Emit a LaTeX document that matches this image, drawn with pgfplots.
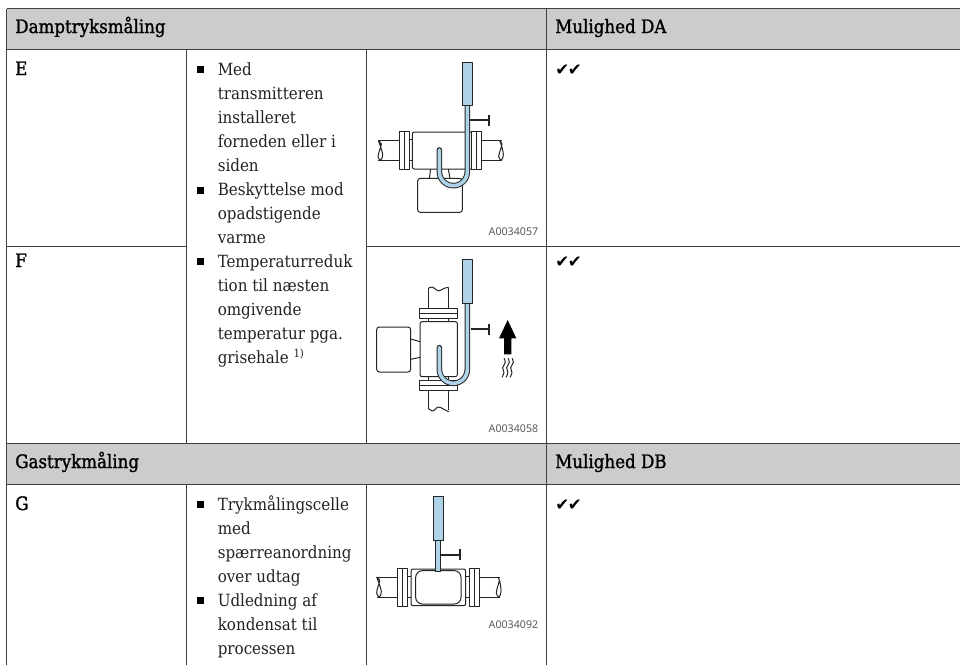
\documentclass[border=0pt]{standalone}
\usepackage{pgfplots}
\pgfplotsset{compat=1.18}
\usepackage{fontspec}
\setmainfont{DejaVu Serif Condensed}
\newfontfamily\hdf[FakeBold=1.3]{DejaVu Serif Condensed}
\newfontfamily\chk{DejaVu Sans}
\newfontfamily\cod{Noto Sans}
\definecolor{hd}{HTML}{CCCCCC}
\definecolor{bl}{HTML}{AED3E8}
\definecolor{ink}{HTML}{242424}
\definecolor{txt}{HTML}{222222}
\pgfplotsset{
 d1/.style={x filter/.expression={340+x/3},y filter/.expression={40+y/3}},
 d2/.style={x filter/.expression={340+x/3},y filter/.expression={225+y/3}},
 d3/.style={x filter/.expression={340+x/3},y filter/.expression={475+y/3}},
 ln/.style={no marks,color=ink,line width=0.75pt,line join=round},
 rr/.style={ln,rounded corners=#1},
 wv/.style={ln,smooth,tension=0.6},
 tk/.style={no marks,color=ink,line width=1.7pt},
 tb/.style={no marks,color=black!85,line width=4.2pt,line join=round,line cap=round},
 ti/.style={no marks,color=bl,line width=2.7pt,line join=round,line cap=round},
 rl/.style={no marks,color=black!75,line width=0.75pt},
 bu/.style={only marks,mark=square*,mark size=2.2pt,color=black},
}
\newcommand{\T}[3]{\node[anchor=base west,inner sep=0pt,text=txt,font=\fontsize{12.6pt}{14pt}\selectfont] at (axis cs:#1,#2) {#3};}
\newcommand{\B}[3]{\node[anchor=base west,inner sep=0pt,text=black,font=\hdf\fontsize{13.9pt}{15pt}\selectfont] at (axis cs:#1,#2) {#3};}
\newcommand{\C}[2]{\node[anchor=base west,inner sep=0pt,text=black,font=\chk\fontsize{12.5pt}{13pt}\selectfont] at (axis cs:#1,#2) {✔\hspace{-1pt}✔};}
\newcommand{\A}[3]{\node[anchor=base east,inner sep=0pt,text=black!65,font=\cod\fontsize{8pt}{10pt}\selectfont] at (axis cs:#1,#2) {#3};}
\begin{document}
\begin{tikzpicture}
\begin{axis}[
 scale only axis,width=720pt,height=498.75pt,
 xmin=0,xmax=960,ymin=0,ymax=665,y dir=reverse,
 hide axis,clip=true,
]
\addplot[draw=none,fill=white] coordinates {(0,0)(960,0)(960,665)(0,665)} --cycle;
% header bands
\addplot[draw=none,fill=hd] coordinates {(6.5,8.5)(960,8.5)(960,49)(6.5,49)} --cycle;
\addplot[draw=none,fill=hd] coordinates {(6.5,443.5)(960,443.5)(960,484)(6.5,484)} --cycle;
% rules
\addplot[rl] coordinates {(6.5,8.5)(960,8.5)};
\addplot[rl] coordinates {(6.5,49)(960,49)};
\addplot[rl] coordinates {(6.5,443.5)(960,443.5)};
\addplot[rl] coordinates {(6.5,484)(960,484)};
\addplot[rl] coordinates {(6.5,246.5)(186,246.5)};
\addplot[rl] coordinates {(366.5,246.5)(960,246.5)};
\addplot[rl] coordinates {(6.5,8.5)(6.5,665)};
\addplot[rl] coordinates {(186,49)(186,443.5)};
\addplot[rl] coordinates {(186,484)(186,665)};
\addplot[rl] coordinates {(366.5,49)(366.5,443.5)};
\addplot[rl] coordinates {(366.5,484)(366.5,665)};
\addplot[rl] coordinates {(546.5,8.5)(546.5,665)};
% bullets
\addplot[bu] coordinates {(200,69)(200,190)(200,261)(200,504.5)(200,600.5)};
% diagram 1
\addplot[d1,rr=2pt,fill=white] coordinates {(233,415)(367,415)(367,517)(233,517)} --cycle;
\addplot[d1,ln] coordinates {(272,387)(268,415)};
\addplot[d1,ln] coordinates {(325,387)(330,415)};
\addplot[d1,ln] coordinates {(115,302)(177,302)};
\addplot[d1,ln] coordinates {(115,362)(177,362)};
\addplot[d1,ln] coordinates {(423,302)(485,302)};
\addplot[d1,ln] coordinates {(423,362)(485,362)};
\addplot[d1,wv] coordinates {(115,302)(121,318)(128,345)(122,360)(114,350)(119,330)(124,312)(115,302)};
\addplot[d1,wv] coordinates {(479,302)(485,318)(490,345)(484,360)(476,350)(481,330)(486,312)(479,302)};
\addplot[d1,ln] coordinates {(207,298)(217,298)(217,362)(207,362)};
\addplot[d1,ln] coordinates {(393,298)(400,298)(400,362)(393,362)};
\addplot[d1,rr=1.5pt,fill=white] coordinates {(217,276)(400,276)(400,387)(217,387)} --cycle;
\addplot[d1,ln,fill=white] coordinates {(177,274)(207,274)(207,388)(177,388)} --cycle;
\addplot[d1,ln] coordinates {(192,274)(192,388)};
\addplot[d1,ln,fill=white] coordinates {(393,274)(423,274)(423,388)(393,388)} --cycle;
\addplot[d1,ln] coordinates {(408,274)(408,388)};
\addplot[d1,tk] coordinates {(390,240)(447,240)};
\addplot[d1,tk] coordinates {(447,224)(447,257)};
\addplot[d1,tb] coordinates {(382,197)(382,395)(380.6,405.9)(376.4,416)(369.7,424.7)(361,431.4)(350.9,435.6)(340,437)(329.1,435.6)(319,431.4)(310.3,424.7)(303.6,416)(299.4,405.9)(298,395)(298,330)};
\addplot[d1,ti] coordinates {(382,197)(382,395)(380.6,405.9)(376.4,416)(369.7,424.7)(361,431.4)(350.9,435.6)(340,437)(329.1,435.6)(319,431.4)(310.3,424.7)(303.6,416)(299.4,405.9)(298,395)(298,330)};
\addplot[d1,ln,fill=bl] coordinates {(367,67)(397,67)(397,197)(367,197)} --cycle;
% diagram 2
\addplot[d2,rr=2pt,fill=white] coordinates {(110,306)(212,306)(212,441)(110,441)} --cycle;
\addplot[d2,ln] coordinates {(212,342)(240,350)};
\addplot[d2,ln] coordinates {(212,403)(240,397)};
\addplot[d2,ln] coordinates {(265,190)(265,250)};
\addplot[d2,ln] coordinates {(326,190)(326,250)};
\addplot[d2,ln] coordinates {(265,281)(265,290)};
\addplot[d2,ln] coordinates {(326,281)(326,290)};
\addplot[d2,ln] coordinates {(265,455)(265,465)};
\addplot[d2,ln] coordinates {(326,455)(326,465)};
\addplot[d2,ln] coordinates {(265,496)(265,552)};
\addplot[d2,ln] coordinates {(326,496)(326,556)};
\addplot[d2,wv] coordinates {(265,190)(278,186)(295,198)(312,190)(326,187)};
\addplot[d2,wv] coordinates {(265,550)(278,558)(295,546)(312,553)(326,560)};
\addplot[d2,rr=1.5pt,fill=white] coordinates {(240,290)(352,290)(352,455)(240,455)} --cycle;
\addplot[d2,ln,fill=white] coordinates {(238,250)(353,250)(353,281)(238,281)} --cycle;
\addplot[d2,ln] coordinates {(238,265)(353,265)};
\addplot[d2,ln,fill=white] coordinates {(238,465)(353,465)(353,496)(238,496)} --cycle;
\addplot[d2,ln] coordinates {(238,480)(353,480)};
\addplot[d2,tk] coordinates {(392,313)(448,313)};
\addplot[d2,tk] coordinates {(448,296)(448,330)};
\addplot[d2,tb] coordinates {(382,235)(382,433)(380.6,443.9)(376.4,454)(369.7,462.7)(361,469.4)(350.9,473.6)(340,475)(329.1,473.6)(319,469.4)(310.3,462.7)(303.6,454)(299.4,443.9)(298,433)(298,368)};
\addplot[d2,ti] coordinates {(382,235)(382,433)(380.6,443.9)(376.4,454)(369.7,462.7)(361,469.4)(350.9,473.6)(340,475)(329.1,473.6)(319,469.4)(310.3,462.7)(303.6,454)(299.4,443.9)(298,433)(298,368)};
\addplot[d2,ln,fill=bl] coordinates {(368,103)(397,103)(397,235)(368,235)} --cycle;
\addplot[d2,draw=none,fill=black] coordinates {(503,285)(529,340)(514,340)(514,388)(492,388)(492,340)(477,340)} --cycle;
\addplot[d2,wv] coordinates {(492,400)(496,412)(488,428)(492,443)(486,457)};
\addplot[d2,wv] coordinates {(504,400)(508,412)(500,428)(504,443)(498,457)};
\addplot[d2,wv] coordinates {(516,400)(520,412)(512,428)(516,443)(510,457)};
% diagram 3
\addplot[d3,ln] coordinates {(110,306)(172,306)};
\addplot[d3,ln] coordinates {(110,368)(172,368)};
\addplot[d3,ln] coordinates {(417,306)(480,306)};
\addplot[d3,ln] coordinates {(417,368)(480,368)};
\addplot[d3,wv] coordinates {(110,306)(116,322)(124,350)(118,366)(110,354)(114,335)(119,316)(110,306)};
\addplot[d3,wv] coordinates {(474,306)(480,322)(483,350)(477,366)(469,354)(473,335)(478,316)(474,306)};
\addplot[d3,ln] coordinates {(202,305)(213,305)(213,368)(202,368)};
\addplot[d3,ln] coordinates {(387,305)(377,305)(377,368)(387,368)};
\addplot[d3,rr=1.5pt,fill=white] coordinates {(213,282)(377,282)(377,392)(213,392)} --cycle;
\addplot[d3,rr=5pt,fill=white] coordinates {(227,287)(363,287)(363,387)(227,387)} --cycle;
\addplot[d3,ln,fill=white] coordinates {(172,281)(202,281)(202,393)(172,393)} --cycle;
\addplot[d3,ln] coordinates {(187,281)(187,393)};
\addplot[d3,ln,fill=white] coordinates {(387,281)(417,281)(417,393)(387,393)} --cycle;
\addplot[d3,ln] coordinates {(402,281)(402,393)};
\addplot[d3,tk] coordinates {(302,239)(360,239)};
\addplot[d3,tk] coordinates {(360,223)(360,256)};
\addplot[d3,ln,fill=bl] coordinates {(286,195)(302,195)(302,288)(286,288)} --cycle;
\addplot[d3,ln,fill=bl] coordinates {(279,65)(309,65)(309,195)(279,195)} --cycle;
% text
\B{15}{33}{Damptryksmåling}
\B{555}{33}{Mulighed DA}
\B{15}{468}{Gastrykmåling}
\B{555}{468}{Mulighed DB}
\B{15}{75}{E}
\B{15}{267}{F}
\B{15}{510}{G}
\T{217.5}{75}{Med}
\T{217.5}{99}{transmitteren}
\T{217.5}{123}{installeret}
\T{217.5}{147}{forneden eller i}
\T{217.5}{171}{siden}
\T{217.5}{195}{Beskyttelse mod}
\T{217.5}{219}{opadstigende}
\T{217.5}{243}{varme}
\T{217.5}{267}{Temperaturreduk}
\T{217.5}{291}{tion til næsten}
\T{217.5}{315}{omgivende}
\T{217.5}{339}{temperatur pga.}
\T{217.5}{363}{grisehale \raisebox{4pt}{\fontsize{8.5pt}{9pt}\selectfont 1)}}
\T{217.5}{510}{Trykmålingscelle}
\T{217.5}{534}{med}
\T{217.5}{558}{spærreanordning}
\T{217.5}{582}{over udtag}
\T{217.5}{606}{Udledning af}
\T{217.5}{630}{kondensat til}
\T{217.5}{654}{processen}
\C{555}{75}
\C{555}{267}
\C{555}{510}
\A{538.5}{235}{A0034057}
\A{538.5}{432}{A0034058}
\A{538.5}{628}{A0034092}
\end{axis}
\end{tikzpicture}
\end{document}
